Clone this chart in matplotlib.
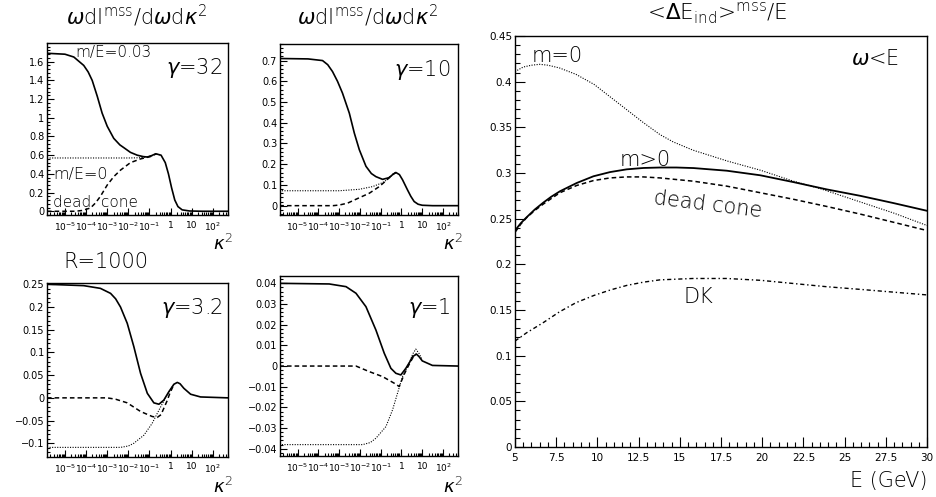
import numpy as np
import matplotlib
matplotlib.use("Agg")
import matplotlib.pyplot as plt
from matplotlib.ticker import FixedLocator, FixedFormatter, MultipleLocator, NullFormatter

plt.rcParams["font.family"] = ["DejaVu Sans"]
plt.rcParams["mathtext.fontset"] = "dejavusans"

# ── data: small panels, x = log10(kappa^2) ───────────────────────────────────
# gamma = 32
g32_solid_lk = [-5.85, -5.0, -4.58, -4.11, -3.9, -3.71, -3.47, -3.24, -3.0, -2.69, -2.4, -2.21, -1.9,
                -1.58, -1.3, -1.1, -0.9, -0.7, -0.45, -0.25, -0.1, 0.05, 0.2, 0.35, 0.55, 0.9, 1.5, 2.72]
g32_solid = [1.69, 1.68, 1.65, 1.56, 1.49, 1.40, 1.23, 1.05, 0.91, 0.78, 0.71, 0.68, 0.63,
             0.60, 0.585, 0.58, 0.595, 0.615, 0.60, 0.52, 0.40, 0.25, 0.12, 0.05, 0.015, 0.003, 0.0, 0.0]
g32_dot_lk = [-5.85, -2.0, -1.5, -1.2, -0.9, -0.7, -0.45]
g32_dot = [0.57, 0.57, 0.572, 0.578, 0.592, 0.612, 0.60]
g32_dash_lk = [-5.85, -4.5, -4.2, -3.79, -3.55, -3.32, -3.0, -2.69, -2.37, -1.9, -1.42, -0.95, -0.7]
g32_dash = [0.0, 0.0, 0.008, 0.035, 0.09, 0.16, 0.28, 0.37, 0.44, 0.52, 0.56, 0.585, 0.612]

# gamma = 10
g10_solid_lk = [-5.88, -4.5, -3.8, -3.55, -3.32, -3.08, -2.84, -2.51, -2.27, -2.03, -1.71, -1.45, -1.23,
                -0.91, -0.6, -0.4, -0.27, -0.1, 0.05, 0.29, 0.45, 0.61, 0.8, 1.0, 1.5, 2.72]
g10_solid = [0.71, 0.708, 0.70, 0.68, 0.647, 0.60, 0.543, 0.446, 0.35, 0.27, 0.19, 0.155, 0.14,
             0.127, 0.135, 0.152, 0.16, 0.15, 0.125, 0.076, 0.045, 0.02, 0.007, 0.002, 0.0, 0.0]
g10_dot_lk = [-5.88, -3.0, -2.03, -1.39, -0.91, -0.59, -0.4, -0.27]
g10_dot = [0.072, 0.072, 0.079, 0.092, 0.111, 0.132, 0.152, 0.16]
g10_dash_lk = [-5.88, -3.3, -3.0, -2.6, -2.19, -1.55, -1.07, -0.75, -0.5, -0.27]
g10_dash = [0.0, 0.0, 0.003, 0.012, 0.031, 0.06, 0.092, 0.12, 0.145, 0.16]

# gamma = 3.2
g3_solid_lk = [-5.85, -4.11, -3.32, -2.84, -2.6, -2.37, -2.05, -1.74, -1.42, -1.10, -0.79, -0.55, -0.32,
               -0.08, 0.16, 0.32, 0.45, 0.63, 0.95, 1.42, 2.72]
g3_solid = [0.25, 0.247, 0.241, 0.23, 0.218, 0.20, 0.164, 0.113, 0.054, 0.010, -0.011, -0.014, -0.005,
            0.0136, 0.030, 0.034, 0.031, 0.021, 0.008, 0.002, 0.0]
g3_dash_lk = [-5.85, -3.0, -2.6, -2.05, -1.42, -0.87, -0.63, -0.45, -0.32, -0.15, -0.05, 0.16]
g3_dash = [0.0, 0.0, -0.003, -0.011, -0.030, -0.041, -0.043, -0.037, -0.023, -0.005, 0.008, 0.030]
g3_dot_lk = [-5.85, -2.37, -2.0, -1.74, -1.26, -0.87, -0.55, -0.24, -0.05, 0.16]
g3_dot = [-0.109, -0.109, -0.106, -0.10, -0.082, -0.056, -0.027, 0.0, 0.015, 0.030]

# gamma = 1
g1_solid_lk = [-5.88, -3.48, -2.67, -2.19, -1.71, -1.23, -0.83, -0.51, -0.27, -0.03, 0.21, 0.4, 0.53,
               0.72, 0.85, 1.0, 1.49, 2.72]
g1_solid = [0.04, 0.0397, 0.0384, 0.0352, 0.0287, 0.0174, 0.0062, -0.0011, -0.0035, -0.0043, -0.0011,
            0.002, 0.0045, 0.0058, 0.0045, 0.0025, 0.0003, 0.0]
g1_dot_lk = [-5.88, -1.87, -1.5, -1.23, -0.75, -0.43, -0.19, 0.05, 0.37, 0.55, 0.69, 0.85, 1.0]
g1_dot = [-0.038, -0.038, -0.037, -0.0349, -0.0293, -0.0212, -0.0131, -0.0051, 0.0014, 0.006, 0.0082,
          0.006, 0.003]
g1_dash_lk = [-5.88, -2.19, -1.55, -0.91, -0.35, -0.11, 0.13, 0.3, 0.45, 0.6, 0.72]
g1_dash = [0.0, 0.0, -0.0027, -0.0051, -0.0083, -0.0099, -0.004, -0.0005, 0.0023, 0.005, 0.0058]

# ── data: right panel, <dE>/E vs E (GeV) ─────────────────────────────────────
m0_E = [5, 5.5, 6.0, 6.5, 7.0, 7.7, 8.7, 9.8, 10.8, 11.8, 12.8, 13.8, 14.6, 15.8, 17.9, 19.9, 21.9,
        23.5, 26.0, 28.0, 30.0]
m0_val = [0.411, 0.416, 0.418, 0.419, 0.418, 0.415, 0.408, 0.397, 0.383, 0.369, 0.355, 0.342, 0.334,
          0.325, 0.313, 0.303, 0.291, 0.283, 0.268, 0.256, 0.2425]
mass_E = [5, 5.35, 5.7, 6.2, 6.72, 7.2, 7.73, 8.74, 9.76, 10.77, 11.78, 12.8, 13.8, 14.8, 15.83, 17.85,
          19.88, 21.9, 23.93, 25.95, 27.98, 30]
mass_val = [0.237, 0.245, 0.2514, 0.260, 0.2676, 0.274, 0.280, 0.289, 0.2964, 0.301, 0.304, 0.3055,
            0.306, 0.306, 0.3054, 0.3025, 0.2975, 0.290, 0.282, 0.275, 0.267, 0.2586]
dc_E = [5, 5.35, 5.7, 6.2, 6.72, 7.2, 7.73, 8.74, 9.76, 10.77, 11.78, 12.79, 13.8, 15.83, 17.85, 19.88,
        21.9, 23.93, 25.95, 27.98, 30]
dc_val = [0.235, 0.244, 0.251, 0.259, 0.266, 0.272, 0.2784, 0.2863, 0.2917, 0.2946, 0.2957, 0.2957,
          0.2946, 0.291, 0.2856, 0.2784, 0.2712, 0.2633, 0.255, 0.246, 0.237]
dk_E = [5, 5.7, 6.7, 7.7, 8.7, 9.8, 10.8, 11.8, 12.8, 13.8, 15.8, 17.85, 19.9, 21.9, 23.9, 26.0, 28.0, 30.0]
dk_val = [0.116, 0.125, 0.136, 0.148, 0.158, 0.166, 0.172, 0.177, 0.1805, 0.183, 0.1845, 0.1845, 0.1825,
          0.179, 0.1755, 0.1725, 0.1695, 0.1665]

log_ticks = [1e-5, 1e-4, 1e-3, 1e-2, 1e-1, 1, 10, 100]
log_labels = [r"$10^{-5}$", r"$10^{-4}$", r"$10^{-3}$", r"$10^{-2}$", r"$10^{-1}$", "1", "10", r"$10^{2}$"]

SOLID = dict(color="black", lw=1.2, ls="-")
DOT = dict(color="black", lw=0.8, ls=(0, (1, 1.3)))
DASH = dict(color="black", lw=1.1, ls=(0, (3, 2)))
LT = dict(fontweight="light")

fig = plt.figure(figsize=(9.36, 4.97), dpi=100)


def style_ticks(ax, major_len, minor_len, xsize, ysize):
    ax.tick_params(which="both", direction="in", pad=2, width=0.8)
    ax.tick_params(which="major", length=major_len)
    ax.tick_params(which="minor", length=minor_len)
    ax.tick_params(axis="x", which="major", pad=4, labelsize=xsize)
    ax.tick_params(axis="y", which="major", labelsize=ysize)
    for s in ax.spines.values():
        s.set_linewidth(1.0)


def small_panel(rect, curves, ylim, ymin, yticks, ylabels):
    ax = fig.add_axes(rect)
    for lk, v, st in curves:
        ax.plot(10.0 ** np.array(lk), v, **st)
    ax.set_xscale("log")
    ax.set_xlim(10 ** -5.85, 10 ** 2.72)
    ax.set_ylim(*ylim)
    ax.xaxis.set_major_locator(FixedLocator(log_ticks))
    ax.xaxis.set_major_formatter(FixedFormatter(log_labels))
    minors = [m * 10.0 ** e for e in range(-6, 3) for m in range(2, 10)]
    ax.xaxis.set_minor_locator(FixedLocator(minors))
    ax.xaxis.set_minor_formatter(NullFormatter())
    ax.yaxis.set_minor_locator(MultipleLocator(ymin))
    ax.set_yticks(yticks)
    ax.set_yticklabels(ylabels)
    style_ticks(ax, 5, 2.5, 6.5, 7)
    return ax


ax1 = small_panel([0.0502, 0.5674, 0.1934, 0.3461],
                  [(g32_dot_lk, g32_dot, DOT), (g32_dash_lk, g32_dash, DASH),
                   (g32_solid_lk, g32_solid, SOLID)],
                  (-0.04, 1.80), 0.04,
                  [0, 0.2, 0.4, 0.6, 0.8, 1.0, 1.2, 1.4, 1.6],
                  ["0", "0.2", "0.4", "0.6", "0.8", "1", "1.2", "1.4", "1.6"])
ax1.text(0.365, 0.945, "m/E=0.03", transform=ax1.transAxes, fontsize=11, ha="center", va="center", **LT)
ax1.text(0.97, 0.855, r"$\gamma$=32", transform=ax1.transAxes, fontsize=15, ha="right", va="center", **LT)
ax1.text(0.033, 0.238, "m/E=0", transform=ax1.transAxes, fontsize=11.5, ha="left", va="center", **LT)
ax1.text(0.033, 0.073, "dead  cone", transform=ax1.transAxes, fontsize=11, ha="left", va="center", **LT)

ax2 = small_panel([0.2991, 0.5674, 0.1902, 0.3441],
                  [(g10_dot_lk, g10_dot, DOT), (g10_dash_lk, g10_dash, DASH),
                   (g10_solid_lk, g10_solid, SOLID)],
                  (-0.045, 0.78), 0.02,
                  [0, 0.1, 0.2, 0.3, 0.4, 0.5, 0.6, 0.7],
                  ["0", "0.1", "0.2", "0.3", "0.4", "0.5", "0.6", "0.7"])
ax2.text(0.96, 0.85, r"$\gamma$=10", transform=ax2.transAxes, fontsize=15, ha="right", va="center", **LT)

ax3 = small_panel([0.0502, 0.0811, 0.1934, 0.3501],
                  [(g3_dot_lk, g3_dot, DOT), (g3_dash_lk, g3_dash, DASH),
                   (g3_solid_lk, g3_solid, SOLID)],
                  (-0.1295, 0.2535), 0.01,
                  [-0.1, -0.05, 0, 0.05, 0.1, 0.15, 0.2, 0.25],
                  ["\u22120.1", "\u22120.05", "0", "0.05", "0.1", "0.15", "0.2", "0.25"])
ax3.text(0.97, 0.855, r"$\gamma$=3.2", transform=ax3.transAxes, fontsize=15, ha="right", va="center", **LT)

ax4 = small_panel([0.2991, 0.0825, 0.1902, 0.3628],
                  [(g1_dot_lk, g1_dot, DOT), (g1_dash_lk, g1_dash, DASH),
                   (g1_solid_lk, g1_solid, SOLID)],
                  (-0.0435, 0.0437), 0.002,
                  [-0.04, -0.03, -0.02, -0.01, 0, 0.01, 0.02, 0.03, 0.04],
                  ["\u22120.04", "\u22120.03", "\u22120.02", "\u22120.01", "0", "0.01", "0.02",
                   "0.03", "0.04"])
ax4.text(0.96, 0.82, r"$\gamma$=1", transform=ax4.transAxes, fontsize=15, ha="right", va="center", **LT)

# titles and axis names of the small panels
title_small = r"$\omega$dI$^{\mathdefault{mss}}$/d$\omega$d$\kappa^{\mathdefault{2}}$"
fig.text(137 / 936, 1 - 16 / 497, title_small, fontsize=15, ha="center", va="center", **LT)
fig.text(368 / 936, 1 - 16 / 497, title_small, fontsize=15, ha="center", va="center", **LT)
fig.text(106 / 936, 1 - 262 / 497, "R=1000", fontsize=15, ha="center", va="center", **LT)
for xk, yk in [(233, 244), (463, 244), (233, 487), (463, 487)]:
    fig.text(xk / 936, 1 - yk / 497, r"$\kappa^{\mathdefault{2}}$", fontsize=13, ha="right",
             va="center", **LT)

# ── right panel ──────────────────────────────────────────────────────────────
ax5 = fig.add_axes([0.5502, 0.1006, 0.4402, 0.8270])
ax5.plot(m0_E, m0_val, color="black", lw=0.8, ls=(0, (1, 1.3)))
ax5.plot(dc_E, dc_val, color="black", lw=1.1, ls=(0, (3, 2)))
ax5.plot(mass_E, mass_val, color="black", lw=1.3, ls="-")
ax5.plot(dk_E, dk_val, color="black", lw=1.0, ls=(0, (3, 2, 1, 2)))
ax5.set_xlim(5, 30)
ax5.set_ylim(0, 0.45)
ax5.xaxis.set_minor_locator(MultipleLocator(0.5))
ax5.yaxis.set_minor_locator(MultipleLocator(0.01))
ax5.set_xticks([5, 7.5, 10, 12.5, 15, 17.5, 20, 22.5, 25, 27.5, 30])
ax5.set_xticklabels(["5", "7.5", "10", "12.5", "15", "17.5", "20", "22.5", "25", "27.5", "30"])
ax5.set_yticks([0, 0.05, 0.1, 0.15, 0.2, 0.25, 0.3, 0.35, 0.4, 0.45])
ax5.set_yticklabels(["0", "0.05", "0.1", "0.15", "0.2", "0.25", "0.3", "0.35", "0.4", "0.45"])
style_ticks(ax5, 7, 3.5, 7.5, 7.5)

ax5.text(6.0, 0.422, "m=0", fontsize=15, ha="left", va="baseline", **LT)
ax5.text(28.3, 0.418, r"$\omega$<E", fontsize=15, ha="right", va="baseline", **LT)
ax5.text(12.9, 0.3075, "m>0", fontsize=15, ha="center", va="baseline", **LT)
ax5.text(16.7, 0.265, "dead cone", fontsize=15, ha="center", va="center", rotation=-7, **LT)
ax5.text(16.1, 0.164, "DK", fontsize=15, ha="center", va="center", **LT)
fig.text(717 / 936, 1 - 13 / 497,
         r"<$\Delta$E$_{\mathdefault{ind}}$>$^{\mathdefault{mss}}$/E", fontsize=15.5,
         ha="center", va="center", **LT)
fig.text(928 / 936, 1 - 481 / 497, "E (GeV)", fontsize=15, ha="right", va="center", **LT)

fig.savefig("out.png", dpi=100)
